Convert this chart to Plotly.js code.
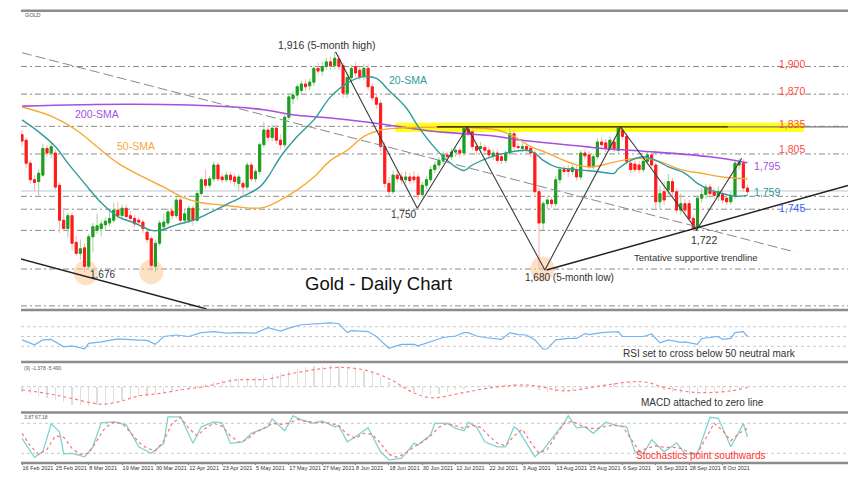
<!DOCTYPE html>
<html><head><meta charset="utf-8">
<script src="https://cdn.plot.ly/plotly-3.0.1.min.js"></script>
<style>html,body{margin:0;padding:0;background:#fff}#c{width:853px;height:490px}</style>
</head><body><div id="c"></div>
<script>
// ---------- DATA ----------
const dateIdx = [0,8,16,24,32,40,48,56,64,72,80,88,96,104,112,120,128,136,144,152,160,168];
const dateLabels = ['16 Feb 2021','25 Feb 2021','8 Mar 2021','19 Mar 2021','30 Mar 2021','12 Apr 2021','23 Apr 2021','5 May 2021','17 May 2021','27 May 2021','8 Jun 2021','18 Jun 2021','30 Jun 2021','12 Jul 2021','22 Jul 2021','3 Aug 2021','13 Aug 2021','25 Aug 2021','6 Sep 2021','16 Sep 2021','28 Sep 2021','8 Oct 2021'];

const openP = [1826,1820,1795,1777,1775,1782,1811,1806,1806,1771,1733,1724,1738,1709,1697,1703,1683,1715,1722,1724,
1728,1730,1733,1744,1738,1746,1738,1735,1733,1731,1720,1713,1683,1708,1726,1730,1743,1738,1755,1733,
1733,1746,1733,1762,1777,1771,1778,1793,1780,1777,1782,1780,1773,1773,1769,1793,1778,1786,1815,1831,
1823,1833,1820,1815,1845,1865,1869,1874,1881,1879,1883,1898,1895,1900,1905,1901,1908,1901,1871,1888,
1900,1896,1889,1898,1878,1866,1860,1813,1773,1764,1782,1780,1777,1780,1780,1780,1761,1771,1777,1788,
1793,1798,1804,1802,1807,1809,1806,1832,1829,1813,1811,1812,1809,1803,1806,1802,1798,1806,1827,1813,
1811,1813,1811,1806,1764,1730,1751,1755,1751,1777,1788,1788,1786,1788,1780,1806,1804,1791,1802,1818,
1817,1811,1818,1809,1831,1824,1795,1794,1793,1788,1797,1804,1793,1753,1764,1766,1775,1764,1744,1751,
1751,1735,1726,1757,1761,1769,1764,1759,1761,1757,1753,1759,1793,1795,1768];
const highP = [1831,1823,1798,1782,1788,1816,1815,1818,1810,1774,1745,1741,1742,1716,1712,1708,1718,1730,1740,1733,
1736,1745,1752,1753,1750,1750,1743,1739,1737,1734,1724,1716,1712,1733,1740,1746,1747,1758,1758,1744,
1749,1749,1766,1780,1788,1781,1797,1796,1784,1786,1786,1784,1783,1776,1796,1796,1789,1818,1840,1836,
1837,1836,1826,1848,1870,1873,1881,1885,1886,1887,1901,1904,1905,1910,1911,1916,1913,1904,1892,1902,
1905,1900,1903,1902,1882,1870,1864,1818,1780,1787,1788,1785,1786,1784,1786,1784,1775,1781,1792,1797,
1802,1808,1807,1811,1812,1812,1835,1836,1832,1817,1818,1816,1813,1810,1810,1806,1809,1834,1831,1817,
1817,1816,1814,1809,1768,1754,1759,1758,1781,1792,1792,1793,1794,1792,1809,1810,1808,1805,1822,1823,
1821,1824,1822,1835,1834,1828,1800,1798,1797,1800,1808,1807,1796,1770,1775,1783,1779,1768,1762,1756,
1755,1739,1760,1768,1772,1772,1768,1770,1765,1761,1764,1798,1800,1799,1772];
const lowP = [1813,1790,1772,1765,1760,1780,1802,1800,1766,1719,1721,1714,1700,1694,1690,1676,1679,1698,1718,1715,
1723,1726,1730,1734,1733,1733,1731,1725,1726,1719,1708,1678,1677,1705,1722,1727,1734,1735,1730,1729,
1730,1727,1731,1759,1767,1768,1775,1775,1773,1774,1773,1770,1765,1760,1766,1775,1774,1783,1812,1818,
1819,1816,1810,1812,1842,1859,1864,1870,1873,1874,1879,1891,1890,1896,1896,1897,1896,1866,1866,1884,
1889,1885,1885,1874,1862,1854,1808,1768,1760,1761,1774,1772,1773,1772,1773,1755,1758,1767,1774,1784,
1789,1794,1797,1798,1802,1801,1803,1824,1809,1804,1806,1806,1800,1798,1795,1794,1795,1803,1809,1808,
1807,1805,1802,1760,1680,1722,1745,1746,1748,1773,1782,1780,1782,1776,1777,1799,1787,1788,1799,1811,
1807,1808,1807,1806,1820,1793,1784,1785,1784,1785,1794,1789,1745,1745,1750,1760,1758,1740,1739,1740,
1732,1721,1723,1752,1756,1757,1756,1754,1751,1749,1750,1756,1788,1764,1760];
const closeP = [1819,1795,1777,1774,1784,1811,1806,1813,1769,1733,1724,1738,1708,1697,1702,1683,1715,1726,1727,1729,
1732,1735,1744,1738,1746,1737,1735,1729,1731,1724,1712,1684,1708,1730,1731,1742,1738,1755,1733,1740,
1746,1733,1762,1777,1771,1778,1793,1778,1777,1782,1777,1775,1780,1769,1793,1778,1786,1815,1831,1823,
1833,1820,1815,1845,1867,1869,1878,1881,1878,1883,1898,1895,1900,1905,1901,1909,1900,1871,1888,1898,
1893,1889,1898,1878,1866,1859,1813,1773,1764,1782,1778,1777,1780,1776,1777,1761,1771,1777,1788,1793,
1798,1804,1802,1807,1809,1806,1833,1827,1813,1809,1813,1809,1804,1806,1798,1798,1806,1827,1813,1812,
1813,1810,1806,1764,1730,1751,1755,1751,1777,1788,1786,1786,1790,1780,1806,1803,1791,1802,1818,1815,
1811,1820,1811,1833,1824,1797,1788,1788,1788,1797,1804,1793,1753,1762,1755,1775,1764,1744,1751,1744,
1735,1724,1757,1761,1769,1762,1760,1764,1755,1753,1760,1795,1796,1768,1764];

const sma20X = [0,4,8,11,15,19,23,27,31,33,37,41,45,49,53,57,59,62,66,70,74,78,82,85,88,92,95,98,101,104,106,108,112,117,121,123,125,128,133,138,142,143,146,149,152,155,159,162,165,168,171,174];
const sma20Y = [1842,1829,1813,1795,1773,1752,1737,1730,1722,1722,1728,1733,1741,1750,1759,1769,1780,1802,1824,1842,1867,1882,1889,1887,1874,1856,1835,1817,1802,1791,1787,1793,1801,1807,1809,1806,1798,1791,1788,1786,1784,1789,1798,1802,1798,1791,1784,1773,1766,1762,1759,1760];
const sma50X = [0,7,13,19,23,29,34,39,43,47,51,55,58,62,66,70,74,78,82,86,90,98,106,114,118,122,126,130,134,137,141,144,147,150,154,158,163,168,174];
const sma50Y = [1856,1846,1831,1809,1795,1780,1769,1757,1752,1750,1748,1746,1747,1755,1766,1780,1798,1809,1824,1831,1833,1834,1834,1831,1824,1813,1806,1798,1792,1791,1795,1798,1800,1800,1795,1788,1784,1780,1778];
const sma200X = [0,27,51,58,66,74,82,90,98,106,114,118,135,139,149,165,174];
const sma200Y = [1857,1859,1856,1853,1847,1844,1840,1835,1830,1827,1824,1821,1813,1811,1808,1802,1795.5];

const levels = [1900,1870,1835,1805,1759,1745,1722,1680,1640];
const lastPrice = 1764.8;
const rightLabels = ['1,900','1,870','1,835','1,805','1,795','1,759','1,745'];
const rightValues = [1900,1870,1835,1805,1795,1759,1745];

const zigX = [75.2,94.8,106.8,125.4,143.6,161.8,172.6];
const zigY = [1916,1746,1834,1679,1834,1722.4,1800.3];

const rsiX = [0,3,5,7,10,12,15,16,19,23,27,30,32,34,37,40,43,46,49,52,56,59,62,64,67,72,74,76,78,79,83,85,88,91,94,95,98,101,104,106,107,109,111,115,117,119,121,123,125,126,128,131,133,135,136,139,143,144,146,149,151,153,155,158,159,162,163,167,168,170,171,173,174];
const rsiY = [43,33,43,44,29,31,25,36,39,45,43,42,34,50,53,50,58,60,57,58,57,68,61,67,74,76,78,76,58,62,60,50,26,34,34,31,39,48,51,58,58,51,48,44,58,54,53,43,24,25,43,46,46,56,54,58,60,50,50,50,55,37,43,38,39,34,46,50,44,46,58,60,50];

const macdSigX = [0,7,12,17,20,24,28,33,39,44,51,59,64,71,77,83,89,93,98,106,114,122,130,138,146,150,154,162,170,174];
const macdSigY = [-3.4,-8,-12.6,-17.6,-18.6,-15.1,-9.8,-7.2,-2.7,0.2,6.9,8,13.3,18.6,20.4,16.8,6.2,-4.5,-11.8,-6.2,-0.2,1.6,-4.5,0.2,5.1,4.5,-0.9,-6.2,-4.5,-0.9];
const macdHistX = [0,2,4,6,8,10,12,14,16,18,20,22,24,26,28,30,32,34,36,38,40,42,44,46,48,50,52,54,56,58,60,62,64,66,68,70,72,74,76,78,80,82,84,86,88,90,92,94,96,98,100,102,104,106,108,110,112,114,116,118,120,122,124,126,128,130,132,134,136,138,140,142,144,146,148,150,152,154,156,158,160,162,164,166,168,170,172,174];
const macdHistY = [-6,-8,-10,-12,-14,-16,-19,-20,-21,-20,-19,-16,-14,-12,-10,-10,-8,-6,-5,-4,-3,-1,3,5,7,8,9,9,10,12,13,15,17,19,21,22,22,23,22,21,19,17,14,10,5,1,-3,-6,-8,-9,-8,-6,-4,-2,0,1,2,2,3,3,2,0,-4,-6,-6,-5,-4,-2,0,2,3,4,5,5,3,2,-1,-4,-6,-7,-8,-8,-7,-6,-5,-4,-2,-1];

const stochKX = [0,2,3,5,7,9,10,12,15,17,19,22,25,28,31,34,35,38,41,43,46,48,50,53,55,59,60,63,65,67,70,72,75,76,78,80,83,86,88,91,94,95,98,99,102,104,106,107,109,111,114,116,118,119,123,125,130,131,133,135,137,140,143,145,147,149,151,154,157,159,162,165,167,170,173,174];
const stochKY = [50,23,12,23,79,63,19,20,13,33,81,83,77,33,20,40,93,93,40,73,83,81,40,43,60,73,89,65,95,87,80,85,73,75,43,53,71,23,7,10,40,37,57,80,80,70,65,82,73,43,33,33,73,67,13,27,81,95,71,73,60,82,75,73,23,19,47,23,41,19,19,92,90,33,79,53];
const stochDX = [0,2,4,6,8,10,12,14,16,18,20,22,24,26,28,30,32,34,36,38,40,42,44,46,48,50,52,54,56,58,60,62,64,66,68,70,72,74,76,78,80,82,84,86,88,90,92,94,96,98,100,102,104,106,108,110,112,114,116,118,120,122,124,126,128,130,132,134,136,138,140,142,144,146,148,150,152,154,156,158,160,162,164,166,168,170,172,174];
const stochDY = [60,35,18,28,55,52,30,18,20,45,72,82,80,62,42,30,25,45,80,92,70,55,70,80,74,55,42,48,62,70,80,78,80,88,84,82,82,80,75,58,50,60,58,40,18,12,20,33,42,55,72,80,75,70,76,72,55,40,35,55,68,42,20,28,55,80,84,76,70,70,74,76,74,50,25,30,35,32,32,30,22,20,50,80,66,45,60,70];

// ---------- GEOMETRY ----------
const X0 = -0.24, X1 = 198.1;
const bodyHigh = openP.map((o,i)=>Math.max(o,closeP[i]));
const bodyLow = openP.map((o,i)=>Math.min(o,closeP[i]));
const idx = openP.map((_,i)=>i);

const FONT = 'Liberation Sans, Arial, sans-serif';
const traces = [
  {type:'candlestick', x:idx, open:openP, high:highP, low:lowP, close:closeP, xaxis:'x', yaxis:'y',
   increasing:{line:{color:'#9fd49f',width:1}, fillcolor:'#9fd49f'},
   decreasing:{line:{color:'#ffb0b0',width:1}, fillcolor:'#ffb0b0'}, whiskerwidth:0, hoverinfo:'skip', showlegend:false},
  {type:'candlestick', x:idx, open:openP, high:bodyHigh, low:bodyLow, close:closeP, xaxis:'x', yaxis:'y',
   increasing:{line:{color:'#1e9e1e',width:1}, fillcolor:'#1e9e1e'},
   decreasing:{line:{color:'#ff1a1a',width:1}, fillcolor:'#ff1a1a'}, whiskerwidth:0, hoverinfo:'skip', showlegend:false},
  {type:'scatter', mode:'lines', x:sma200X, y:sma200Y, line:{color:'#a64fe0',width:1.6,shape:'spline'}, yaxis:'y', showlegend:false},
  {type:'scatter', mode:'lines', x:sma50X, y:sma50Y, line:{color:'#f7a935',width:1.4,shape:'spline'}, yaxis:'y', showlegend:false},
  {type:'scatter', mode:'lines', x:sma20X, y:sma20Y, line:{color:'#2f9c9c',width:1.4,shape:'spline'}, yaxis:'y', showlegend:false},
  {type:'scatter', mode:'lines', x:zigX, y:zigY, line:{color:'#3a3a3a',width:1.1}, yaxis:'y', showlegend:false},
  {type:'scatter', mode:'lines', x:rsiX, y:rsiY, line:{color:'#73b3f0',width:1.2}, yaxis:'y2', showlegend:false},
  {type:'bar', x:macdHistX, y:macdHistY, width:0.3, marker:{color:'#dedede'}, yaxis:'y3', showlegend:false},
  {type:'scatter', mode:'lines', x:macdSigX, y:macdSigY, line:{color:'#ff7a7a',width:1.2,dash:'dot',shape:'spline'}, yaxis:'y3', showlegend:false},
  {type:'scatter', mode:'lines', x:stochKX, y:stochKY, line:{color:'#7fd3d3',width:1.3}, yaxis:'y4', showlegend:false},
  {type:'scatter', mode:'lines', x:stochDX, y:stochDY, line:{color:'#ff7070',width:1.2,dash:'dot'}, yaxis:'y4', showlegend:false}
];

const shapes = [];
// highlight band and circles
shapes.push({type:'rect', xref:'x', yref:'y', x0:89.6, x1:187.5, y0:1828.8, y1:1838.8, fillcolor:'rgba(255,255,0,0.9)', line:{width:0}, layer:'below'});
[[15.3,1676],[31,1677],[124.8,1680]].forEach(p=>{
  shapes.push({type:'circle', xref:'x', yref:'y', x0:p[0]-2.9, x1:p[0]+2.9, y0:p[1]-13.5, y1:p[1]+13.5, fillcolor:'rgba(250,200,150,0.55)', line:{width:0}, layer:'below'});
});
levels.forEach(v=>shapes.push({type:'line', xref:'paper', yref:'y', x0:0, x1:1, y0:v, y1:v, line:{color:'#8a8a8a',width:1,dash:'6px,3px,2px,3px'}, layer:'below'}));
shapes.push({type:'line', xref:'paper', yref:'y', x0:0, x1:1, y0:lastPrice, y1:lastPrice, line:{color:'#b9c6d2',width:1}, layer:'below'});
// trendlines
shapes.push({type:'line', xref:'x', yref:'y', x0:0, y0:1915, x1:185.4, y1:1698.5, line:{color:'#8a8a8a',width:1,dash:'10px,4px'}});
shapes.push({type:'line', xref:'x', yref:'y', x0:-0.3, y0:1691, x1:44.3, y1:1636.6, line:{color:'#222',width:1.5}});
shapes.push({type:'line', xref:'x', yref:'y', x0:125.8, y0:1678.9, x1:198.1, y1:1770.9, line:{color:'#222',width:1.5}});
shapes.push({type:'line', xref:'x', yref:'y', x0:99.5, y0:1834.5, x1:169.3, y1:1834.5, line:{color:'#111',width:1.2}});
shapes.push({type:'line', xref:'x', yref:'y', x0:169.3, y0:1834.5, x1:198.1, y1:1834.5, line:{color:'#777',width:1.2}});
// sub-panel levels
[70,50,30].forEach(v=>shapes.push({type:'line', xref:'paper', yref:'y2', x0:0, x1:1, y0:v, y1:v, line:{color:'#c8c8c8',width:1,dash:'dot'}, layer:'below'}));
shapes.push({type:'line', xref:'paper', yref:'y3', x0:0, x1:1, y0:0, y1:0, line:{color:'#c8c8c8',width:1,dash:'dot'}, layer:'below'});
[80,20].forEach(v=>shapes.push({type:'line', xref:'paper', yref:'y4', x0:0, x1:1, y0:v, y1:v, line:{color:'#c8c8c8',width:1,dash:'dot'}, layer:'below'}));
// frame separators
[1.003,0.3392,0.2239,0.112,0.0].forEach(v=>shapes.push({type:'line', xref:'paper', yref:'paper', x0:0, x1:1, y0:v, y1:v, line:{color:'#8c8c8c',width:2.5}}));

const ann = [];
function A(text,x,y,yref,size,color,opts){ann.push(Object.assign({text:text,x:x,y:y,xref:'x',yref:yref,showarrow:false,font:{family:FONT,size:size,color:color}},opts||{}));}
A('GOLD',0.3,1955.5,'y',5.5,'#555',{xanchor:'left'});
A('1,916 (5-month high)',73.1,1923.4,'y',10.5,'#333');
A('20-SMA',92.6,1885.3,'y',10.5,'#2f9c9c');
A('200-SMA',18.1,1848.4,'y',10.5,'#a64fe0');
A('50-SMA',27.3,1813.6,'y',10.5,'#f7a935');
A('1,750',91.6,1738.7,'y',10,'#333');
A('1,676',19.4,1674.6,'y',10,'#333');
A('Gold - Daily Chart',85.4,1664.8,'y',18.5,'#111');
A('1,680 (5-month low)',131.2,1670.3,'y',10,'#333');
A('1,722',163.5,1711.5,'y',10.5,'#333');
A('Tentative supportive trendline',161.6,1692,'y',9.5,'#333');
const rlX = [184.7,184.7,184.7,184.7,178.7,178.7,184.7];
const rlShift = [2.5,3,2.5,4.5,-2.5,4,1.5];
const rlCol = ['#ff4a4a','#ff4a4a','#ff4a4a','#ff4a4a','#a64fe0','#2f9c9c','#3a5cff'];
rightLabels.forEach((t,i)=>A(t,rlX[i],rightValues[i],'y',10.5,rlCol[i],{yshift:rlShift[i]}));
A('RSI set to cross below 50 neutral mark',164.9,16.3,'y2',10,'#333');
A('(9) -1.378 -5.490',0,19.9,'y3',5,'#555',{xanchor:'left'});
A('MACD attached to zero line',163.1,-17.3,'y3',10,'#333');
A('3.87 67.18',0,92.6,'y4',5,'#555',{xanchor:'left'});
A('Stochastics point southwards',162.8,16.6,'y4',10,'#ff3030');

const ax = {showgrid:false, zeroline:false, showline:false, showticklabels:false, ticks:'', fixedrange:true};
const layout = {
  width:853, height:490, margin:{l:21,r:5,t:12,b:27},
  paper_bgcolor:'#fff', plot_bgcolor:'#fff', showlegend:false, bargap:0,
  font:{family:FONT},
  xaxis:{range:[X0,X1], anchor:'y4', showgrid:false, zeroline:false, showline:false,
    tickvals:dateIdx, ticktext:dateLabels, ticks:'outside', ticklen:2, tickcolor:'#777', tickangle:0,
    ticklabelposition:'outside right', tickfont:{size:5.5,color:'#333',family:FONT},
    rangeslider:{visible:false}, fixedrange:true},
  yaxis:Object.assign({domain:[0.3415,1], range:[1636.6,1959.2]},ax),
  yaxis2:Object.assign({domain:[0.2262,0.3348], range:[0,100]},ax),
  yaxis3:Object.assign({domain:[0.1153,0.2195], range:[-25.9,24.1]},ax),
  yaxis4:Object.assign({domain:[0.0022,0.1086], range:[2.6,98.6]},ax),
  shapes:shapes, annotations:ann
};
Plotly.newPlot('c', traces, layout, {staticPlot:true, displayModeBar:false});
</script>
</body></html>
